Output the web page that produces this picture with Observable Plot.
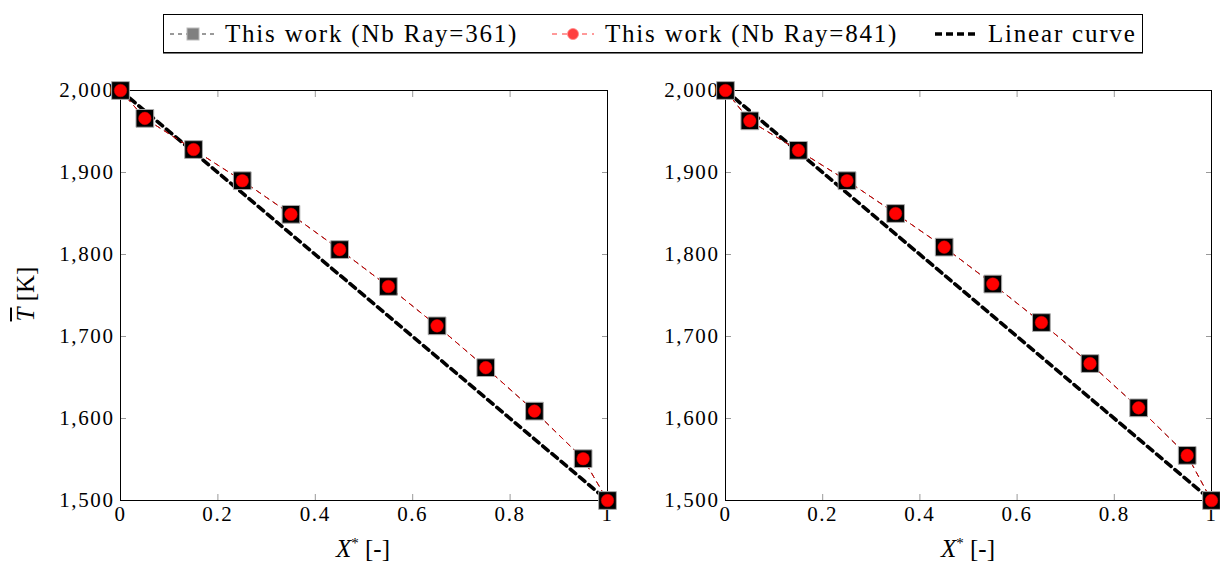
<!DOCTYPE html>
<html><head><meta charset="utf-8">
<script src="https://cdn.jsdelivr.net/npm/d3@7"></script>
<script src="https://cdn.jsdelivr.net/npm/@observablehq/plot@0.6"></script>
<style>
body{margin:0;background:#fff;}
#wrap{position:relative;width:1220px;height:566px;font-family:"Liberation Serif","DejaVu Serif","Times New Roman",serif;color:#000;overflow:hidden;}
#wrap svg text{font-family:"Liberation Serif","DejaVu Serif","Times New Roman",serif;letter-spacing:1.6px;}
.abs{position:absolute;white-space:nowrap;}
.leg{position:absolute;left:163px;top:14px;width:978px;height:37px;border:1px solid #000;box-shadow:0 1px 0 #777;}
.legtxt{position:absolute;top:0;line-height:37px;font-size:25px;letter-spacing:1.8px;}
.xlab{font-size:25px;text-align:center;width:200px;}
.ylab{font-size:25px;transform:rotate(-90deg);transform-origin:center center;text-align:center;width:120px;}
</style></head><body><div id="wrap"></div>
<script>
// ---- data ----
const xStar = [0, 0.05, 0.15, 0.25, 0.35, 0.45, 0.55, 0.65, 0.75, 0.85, 0.95, 1];
const leftNb361  = [2000, 1966, 1928, 1890, 1849, 1806, 1761, 1713, 1662, 1609, 1551, 1500];
const leftNb841  = [2000, 1966, 1928, 1890, 1849, 1806, 1761, 1713, 1662, 1609, 1551, 1500];
const rightNb361 = [2000, 1963, 1927, 1890, 1850, 1809, 1764, 1717, 1667, 1613, 1555, 1500];
const rightNb841 = [2000, 1963, 1927, 1890, 1850, 1809, 1764, 1717, 1667, 1613, 1555, 1500];
const linearX = [0, 1];
const linearT = [2000, 1500];
const xTicks = [0, 0.2, 0.4, 0.6, 0.8, 1];
const yTicks = [1500, 1600, 1700, 1800, 1900, 2000];
const seriesLabels = ["This work (Nb Ray=361)", "This work (Nb Ray=841)", "Linear curve"];
const xLabelText = ["X", "*", " [-]"];
const yLabelText = ["T", " [K]"];

const FONT = "'Liberation Serif','DejaVu Serif','Times New Roman',serif";
const wrap = document.getElementById("wrap");

function panel(t361, t841, width, marginRight) {
  const d361 = xStar.map((x, i) => ({x, t: t361[i]}));
  const d841 = xStar.map((x, i) => ({x, t: t841[i]}));
  const lin = linearX.map((x, i) => ({x, t: linearT[i]}));
  const inner = xTicks.slice(1, -1);
  const innerY = yTicks.slice(1, -1);
  const blank = () => "";
  return Plot.plot({
    width, height: 480,
    marginLeft: 120, marginRight, marginTop: 30, marginBottom: 40,
    x: {domain: [0, 1]},
    y: {domain: [1500, 2000]},
    style: {fontFamily: FONT, fontSize: "21px", color: "#000", background: "transparent", overflow: "visible"},
    marks: [
      Plot.axisX(inner, {anchor: "bottom", tickSize: -6, tickFormat: blank, stroke: "#999", label: null}),
      Plot.axisX(inner, {anchor: "top", tickSize: -6, tickFormat: blank, stroke: "#999", label: null}),
      Plot.axisY(innerY, {anchor: "left", tickSize: -6, tickFormat: blank, stroke: "#999", label: null}),
      Plot.axisY(innerY, {anchor: "right", tickSize: -6, tickFormat: blank, stroke: "#999", label: null}),
      Plot.axisX(xTicks, {anchor: "bottom", tickSize: 0, tickPadding: 6, tickFormat: d => String(d), label: null, fontFamily: FONT}),
      Plot.axisY(yTicks, {anchor: "left", tickSize: 0, tickPadding: 6, tickFormat: d3.format(","), label: null, fontFamily: FONT}),
      Plot.frame({stroke: "#000", strokeWidth: 1}),
      Plot.line(lin, {x: "x", y: "t", stroke: "#000", strokeWidth: 3.6, strokeDasharray: "7,5"}),
      Plot.line(d361, {x: "x", y: "t", stroke: "#000", strokeWidth: 0.8, strokeDasharray: "5,5"}),
      Plot.line(d841, {x: "x", y: "t", stroke: "#d00", strokeWidth: 1, strokeDasharray: "5,5"}),
      Plot.dot(d361, {x: "x", y: "t", symbol: "square", r: 10, fill: "#000", stroke: "#aaa", strokeWidth: 1}),
      Plot.dot(d841, {x: "x", y: "t", r: 6.3, fill: "#f00", stroke: "#c00", strokeWidth: 0.5})
    ]
  });
}

const left = panel(leftNb361, leftNb841, 612, 5);
left.style.position = "absolute"; left.style.left = "0px"; left.style.top = "60px";
wrap.appendChild(left);
const right = panel(rightNb361, rightNb841, 616, 10);
right.style.position = "absolute"; right.style.left = "605px"; right.style.top = "60px";
wrap.appendChild(right);

// legend
const leg = document.createElement("div");
leg.className = "leg";
leg.innerHTML = `
<svg class="abs" style="left:6px;top:8px" width="46" height="22">
  <line x1="0" y1="11" x2="46" y2="11" stroke="#000" stroke-width="0.8" stroke-dasharray="4,4"/>
  <rect x="17" y="5" width="12" height="12" fill="#808080" stroke="#bbb" stroke-width="1"/>
</svg>
<div class="legtxt" style="left:61px">${seriesLabels[0]}</div>
<svg class="abs" style="left:388px;top:8px" width="42" height="22">
  <line x1="0" y1="11" x2="42" y2="11" stroke="#f00" stroke-width="0.8" stroke-dasharray="5,5"/>
  <circle cx="21" cy="11" r="5.5" fill="#ff4040" stroke="#f88" stroke-width="0.8"/>
</svg>
<div class="legtxt" style="left:441px">${seriesLabels[1]}</div>
<svg class="abs" style="left:771px;top:8px" width="42" height="22">
  <line x1="0" y1="11" x2="42" y2="11" stroke="#000" stroke-width="3.6" stroke-dasharray="7,4"/>
</svg>
<div class="legtxt" style="left:824px">${seriesLabels[2]}</div>`;
wrap.appendChild(leg);

// axis labels
function xLabel(cx) {
  const d = document.createElement("div");
  d.className = "abs xlab";
  d.style.left = (cx - 100) + "px"; d.style.top = "535px";
  d.innerHTML = `<i>${xLabelText[0]}</i><sup style="font-size:15px">${xLabelText[1]}</sup>${xLabelText[2]}`;
  wrap.appendChild(d);
}
xLabel(363); xLabel(968);
const yl = document.createElement("div");
yl.className = "abs ylab";
yl.style.left = (26 - 60) + "px"; yl.style.top = (295 - 15) + "px";
yl.innerHTML = `<i style="text-decoration:overline">${yLabelText[0]}</i>${yLabelText[1]}`;
wrap.appendChild(yl);
</script></body></html>
